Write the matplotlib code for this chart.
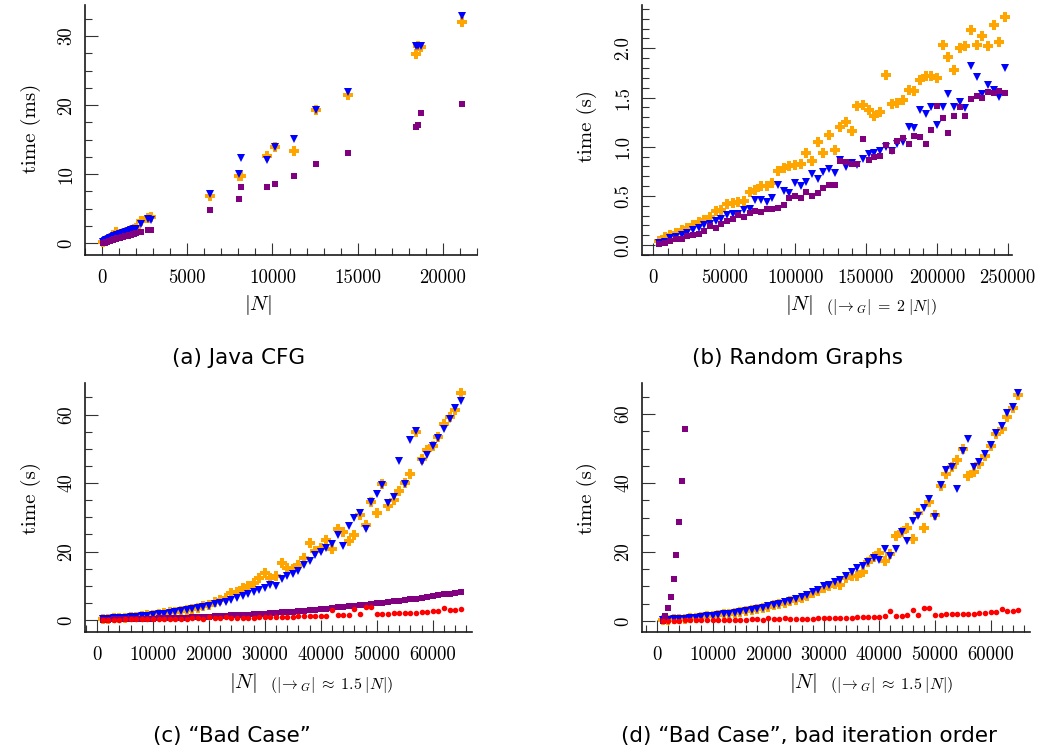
import matplotlib
matplotlib.use('Agg')
import matplotlib.pyplot as plt
from matplotlib.ticker import MultipleLocator, FuncFormatter

plt.rcParams['mathtext.fontset'] = 'cm'
plt.rcParams['axes.unicode_minus'] = False
plt.rcParams['font.family'] = ['cmr10', 'DejaVu Serif']

# ---------------- data ----------------
# (a) Java CFG
n_a = [60, 150, 230, 310, 400, 480, 560, 650, 730, 820, 900, 990, 1080, 1160, 1250,
       1340, 1430, 1520, 1610, 1700, 1790, 1880, 1970,
       2300, 2700, 2900,
       6330, 8040, 8160, 9690, 10160, 11290, 12570, 14430, 18450, 18550, 18700, 21100]
orange_a = [0.2, 0.3, 0.4, 0.5, 0.6, 0.7, 0.8, 1.0, 1.2, 1.7, 1.2, 1.3, 1.35, 1.4, 1.5,
            1.55, 1.6, 1.7, 1.8, 1.85, 1.9, 2.0, 2.2,
            3.2, 3.6, 3.8,
            6.9, 9.8, 9.7, 12.6, 13.9, 13.3, 19.3, 21.4, 27.4, 28.5, 28.4, 32.0]
blue_a = [0.2, 0.3, 0.4, 0.5, 0.6, 0.7, 0.8, 0.9, 1.0, 1.1, 1.15, 1.25, 1.3, 1.4, 1.45,
          1.55, 1.6, 1.7, 1.75, 1.85, 1.9, 2.0, 2.05,
          2.75, 3.5, 3.4,
          7.1, 10.0, 12.3, 12.1, 13.9, 15.1, 19.3, 21.9, 28.6, 28.6, 28.5, 32.9]
purple_a = [0.0, 0.1, 0.15, 0.2, 0.3, 0.35, 0.4, 0.5, 0.55, 0.6, 0.7, 0.75, 0.8, 0.85, 0.95,
            1.0, 1.05, 1.1, 1.2, 1.25, 1.3, 1.35, 1.45,
            1.7, 1.9, 1.95,
            4.8, 6.4, 8.1, 8.2, 8.6, 9.8, 11.5, 13.1, 16.8, 17.1, 18.9, 20.2]

# (b) Random graphs
n_b = [4000, 8000, 12000, 16000, 20000, 24000, 28000, 32000, 36000, 40000,
       44000, 48000, 52000, 56000, 60000, 64000, 68000, 72000, 76000, 80000,
       84000, 88000, 92000, 96000, 100000, 104000, 108000, 112000, 116000, 120000,
       124000, 128000, 132000, 136000, 140000, 144000, 148000, 152000, 156000, 160000,
       164000, 168000, 172000, 176000, 180000, 184000, 188000, 192000, 196000, 200000,
       204000, 208000, 212000, 216000, 220000, 224000, 228000, 232000, 236000, 240000,
       244000, 248000]
orange_b = [0.04, 0.078, 0.10, 0.125, 0.15, 0.176, 0.20, 0.24, 0.26, 0.29,
            0.35, 0.36, 0.42, 0.43, 0.44, 0.45, 0.54, 0.56, 0.60, 0.60,
            0.63, 0.75, 0.78, 0.80, 0.81, 0.82, 0.94, 0.86, 1.05, 0.94,
            1.12, 0.97, 1.20, 1.25, 1.16, 1.41, 1.42, 1.37, 1.31, 1.35,
            1.73, 1.43, 1.44, 1.47, 1.58, 1.57, 1.68, 1.72, 1.72, 1.70,
            2.03, 1.91, 1.78, 2.00, 2.02, 2.19, 2.03, 2.13, 2.02, 2.24,
            2.06, 2.32]
blue_b = [0.017, 0.034, 0.068, 0.085, 0.10, 0.125, 0.15, 0.17, 0.20, 0.21,
          0.25, 0.27, 0.305, 0.315, 0.32, 0.36, 0.37, 0.46, 0.46, 0.44,
          0.48, 0.61, 0.55, 0.53, 0.63, 0.60, 0.64, 0.72, 0.67, 0.74,
          0.77, 0.73, 0.87, 0.79, 0.83, 0.81, 0.88, 0.93, 0.94, 0.96,
          1.00, 0.96, 1.03, 1.05, 1.20, 1.19, 1.37, 1.33, 1.40, 1.22,
          1.40, 1.54, 1.40, 1.45, 1.39, 1.82, 1.71, 1.54, 1.63, 1.58,
          1.51, 1.80]
purple_b = [0.01, 0.024, 0.044, 0.061, 0.061, 0.092, 0.10, 0.11, 0.14, 0.19,
            0.17, 0.21, 0.25, 0.27, 0.31, 0.29, 0.33, 0.35, 0.34, 0.37,
            0.37, 0.38, 0.41, 0.48, 0.50, 0.48, 0.54, 0.50, 0.53, 0.58,
            0.61, 0.61, 0.86, 0.84, 0.82, 0.82, 1.08, 0.87, 0.90, 0.91,
            1.02, 0.96, 1.06, 1.09, 1.03, 1.11, 1.10, 1.03, 1.17, 1.41,
            1.29, 1.14, 1.31, 1.40, 1.31, 1.48, 1.52, 1.50, 1.56, 1.55,
            1.57, 1.55]

# (c) / (d) "Bad Case"
n_cd = [1000, 2000, 3000, 4000, 5000, 6000, 7000, 8000, 9000, 10000,
        11000, 12000, 13000, 14000, 15000, 16000, 17000, 18000, 19000, 20000,
        21000, 22000, 23000, 24000, 25000, 26000, 27000, 28000, 29000, 30000,
        31000, 32000, 33000, 34000, 35000, 36000, 37000, 38000, 39000, 40000,
        41000, 42000, 43000, 44000, 45000, 46000, 47000, 48000, 49000, 50000,
        51000, 52000, 53000, 54000, 55000, 56000, 57000, 58000, 59000, 60000,
        61000, 62000, 63000, 64000, 65000]
orange_c = [0.3, 0.4, 0.5, 0.6, 0.7, 0.85, 1.0, 1.2, 1.35, 1.55,
            1.75, 1.95, 2.2, 2.45, 2.7, 3.0, 3.3, 3.6, 4.0, 4.5,
            5.2, 5.8, 6.4, 7.8, 8.2, 9.4, 9.9, 10.8, 12.2, 13.8,
            12.4, 12.9, 16.5, 15.3, 14.9, 16.1, 18.0, 22.4, 20.1, 21.1,
            23.4, 20.7, 26.6, 25.8, 23.1, 24.8, 30.7, 27.7, 34.5, 31.1,
            39.6, 33.4, 35.0, 37.7, 39.9, 42.5, 54.8, 47.0, 49.6, 50.9,
            53.5, 57.1, 59.4, 61.3, 66.2]
blue_c = [0.3, 0.4, 0.5, 0.6, 0.7, 0.85, 1.0, 1.15, 1.3, 1.5,
          1.7, 1.9, 2.1, 2.35, 2.6, 2.9, 3.2, 3.5, 3.8, 4.2,
          4.6, 5.0, 5.4, 5.9, 6.4, 6.9, 7.5, 8.1, 8.7, 9.4,
          10.2, 10.0, 12.0, 12.8, 13.5, 14.4, 16.1, 17.2, 19.0, 20.0,
          21.1, 22.1, 24.8, 21.7, 27.4, 29.9, 31.1, 26.6, 34.4, 36.7,
          39.4, 34.1, 36.0, 46.4, 39.7, 52.6, 55.2, 46.2, 48.2, 50.8,
          53.2, 55.8, 58.6, 61.8, 64.0]
purple_c = [0.1, 0.12, 0.15, 0.18, 0.21, 0.24, 0.28, 0.32, 0.36, 0.4,
            0.45, 0.5, 0.55, 0.6, 0.66, 0.72, 0.79, 0.86, 0.93, 1.0,
            1.08, 1.16, 1.24, 1.33, 1.42, 1.51, 1.6, 1.7, 1.8, 1.9,
            2.0, 2.1, 2.22, 2.34, 2.46, 2.6, 2.74, 2.9, 3.05, 3.2,
            3.35, 3.5, 3.66, 3.82, 3.98, 4.15, 4.32, 4.5, 4.68, 4.86,
            5.05, 5.24, 5.43, 5.63, 5.84, 6.05, 6.27, 6.5, 6.73, 6.96,
            7.2, 7.45, 7.7, 7.95, 8.2]
red_cd = [0.1, 0.1, 0.1, 0.1, 0.15, 0.15, 0.2, 0.2, 0.25, 0.25,
          0.3, 0.3, 0.3, 0.35, 0.35, 0.4, 0.6, 0.5, 0.4, 0.85,
          0.5, 0.5, 0.9, 0.6, 0.6, 0.6, 0.7, 0.7, 0.75, 0.9,
          0.8, 0.8, 0.95, 0.95, 0.95, 1.15, 1.15, 1.2, 1.25, 1.27,
          1.3, 2.8, 1.55, 1.56, 1.6, 3.2, 1.75, 3.7, 3.7, 1.85,
          1.85, 1.9, 1.95, 1.95, 2.05, 2.05, 2.15, 2.25, 2.35, 2.5,
          2.55, 3.4, 3.0, 3.0, 3.1]
orange_d = [0.3, 0.4, 0.5, 0.6, 0.7, 0.85, 1.0, 1.15, 1.3, 1.5,
            1.7, 1.9, 2.1, 2.35, 2.6, 2.85, 3.15, 3.45, 3.8, 4.1,
            4.5, 4.9, 5.3, 5.8, 6.2, 6.8, 7.3, 8.0, 8.8,
            9.5, 10.0, 10.7, 10.4, 12.4, 13.1, 13.1, 14.1, 17.2, 18.5,
            19.8, 17.4, 19.5, 24.7, 25.9, 27.1, 23.8, 31.2, 26.9, 34.5,
            30.7, 39.1, 42.5, 44.7, 46.8, 50.0, 42.1, 43.1, 45.5, 47.9,
            50.7, 54.1, 55.8, 59.2, 61.8, 65.6]
blue_d = [0.3, 0.4, 0.5, 0.6, 0.7, 0.85, 1.0, 1.15, 1.3, 1.5,
          1.7, 1.9, 2.1, 2.35, 2.6, 2.9, 3.2, 3.5, 3.85, 4.2,
          4.6, 5.0, 5.4, 5.9, 6.4, 6.9, 7.6, 8.3, 9.1,
          10.0, 10.4, 11.2, 11.9, 13.1, 14.1, 15.3, 16.0, 17.2, 18.2,
          17.7, 20.8, 18.9, 20.8, 25.9, 23.2, 29.1, 30.4, 32.7, 35.3,
          30.2, 39.4, 43.8, 44.5, 38.3, 49.4, 52.8, 44.6, 46.0, 48.4,
          51.0, 54.4, 56.5, 60.2, 62.1, 66.0]
n_purple_d = [1000, 1500, 2000, 2500, 3000, 3500, 4000, 4500, 5000]
purple_d = [0.1, 1.5, 3.9, 7.0, 12.2, 19.1, 28.7, 40.6, 55.6]

# ---------------- styling ----------------
ORANGE, BLUE, PURPLE, RED = '#FFA500', '#0000FF', '#800080', '#FF0000'
W, H = 1048, 753
fig = plt.figure(figsize=(W / 100, H / 100), dpi=100)


def add_ax(l, r, t, b):
    return fig.add_axes([l / W, 1 - b / H, (r - l) / W, (b - t) / H])


def style(ax, xlim, ylim, xmaj, xmin, ymaj, ymin, yfmt):
    ax.set_xlim(*xlim)
    ax.set_ylim(*ylim)
    for s in ['top', 'right']:
        ax.spines[s].set_visible(False)
    for s in ['left', 'bottom']:
        ax.spines[s].set_linewidth(1.2)
        ax.spines[s].set_color('#1a1a1a')
    ax.xaxis.set_major_locator(MultipleLocator(xmaj))
    ax.xaxis.set_minor_locator(MultipleLocator(xmin))
    ax.yaxis.set_major_locator(MultipleLocator(ymaj))
    ax.yaxis.set_minor_locator(MultipleLocator(ymin))
    ax.xaxis.set_major_formatter(FuncFormatter(lambda v, p: f'{v:.0f}'))
    ax.yaxis.set_major_formatter(FuncFormatter(lambda v, p: yfmt.format(v)))
    ax.tick_params(which='both', direction='in', color='#333333', width=0.8,
                   top=False, right=False)
    ax.tick_params(which='major', length=9)
    ax.tick_params(which='minor', length=5)
    ax.tick_params(axis='x', pad=10, labelsize=13.5)
    ax.tick_params(axis='y', pad=7, labelsize=13.5, labelrotation=90)
    for lab in ax.get_yticklabels():
        lab.set_va('center')


def pts(ax, x, y, color, marker, ms):
    ax.plot(x, y, linestyle='none', marker=marker, color=color,
            markersize=ms, markeredgewidth=0, clip_on=False)


axA = add_ax(85, 477, 5, 255)
axB = add_ax(642, 1012, 5, 255)
axC = add_ax(85, 472, 383, 632)
axD = add_ax(642, 1030, 383, 632)

style(axA, (-1000, 22000), (-1.7, 34.5), 5000, 1000, 10, 2.5, '{:.0f}')
style(axB, (-8000, 253000), (-0.1, 2.44), 50000, 10000, 0.5, 0.1, '{:.1f}')
style(axC, (-2140, 67000), (-3.5, 69.2), 10000, 2000, 20, 5, '{:.0f}')
style(axD, (-2700, 67100), (-3.2, 69.0), 10000, 2000, 20, 5, '{:.0f}')

OMS, BMS, PMS, RMS = 7.2, 6.4, 4.5, 4.0

pts(axA, n_a, orange_a, ORANGE, 'P', OMS)
pts(axA, n_a, blue_a, BLUE, 'v', BMS)
pts(axA, n_a, purple_a, PURPLE, 's', PMS)

pts(axB, n_b, orange_b, ORANGE, 'P', OMS)
pts(axB, n_b, blue_b, BLUE, 'v', BMS)
pts(axB, n_b, purple_b, PURPLE, 's', PMS)

pts(axC, n_cd, orange_c, ORANGE, 'P', OMS)
pts(axC, n_cd, blue_c, BLUE, 'v', BMS)
pts(axC, n_cd, purple_c, PURPLE, 's', PMS)
pts(axC, n_cd, red_cd, RED, 'o', RMS)

pts(axD, n_cd, orange_d, ORANGE, 'P', OMS)
pts(axD, n_cd, blue_d, BLUE, 'v', BMS)
pts(axD, n_purple_d, purple_d, PURPLE, 's', PMS)
pts(axD, n_cd, red_cd, RED, 'o', RMS)

# ---------------- labels ----------------
def ftext(x, y, s, **kw):
    fig.text(x / W, 1 - y / H, s, **kw)


LBL = 15
SUB = 11.5
ftext(31, 128, 'time (ms)', rotation=90, ha='center', va='center', fontsize=LBL)
ftext(587, 126, 'time (s)', rotation=90, ha='center', va='center', fontsize=LBL)
ftext(31, 498, 'time (s)', rotation=90, ha='center', va='center', fontsize=LBL)
ftext(587, 498, 'time (s)', rotation=90, ha='center', va='center', fontsize=LBL)

ftext(258, 305, r'$|N|$', ha='center', va='center', fontsize=LBL)
ftext(799, 305, r'$|N|$', ha='center', va='center', fontsize=LBL)
ftext(826, 307, r'$(|\!\rightarrow_G|\;=\;2\;|N|)$', ha='left', va='center', fontsize=SUB)
ftext(243, 683, r'$|N|$', ha='center', va='center', fontsize=LBL)
ftext(270, 685, r'$(|\!\rightarrow_G|\;\approx\;1.5\;|N|)$', ha='left', va='center', fontsize=SUB)
ftext(803, 683, r'$|N|$', ha='center', va='center', fontsize=LBL)
ftext(830, 685, r'$(|\!\rightarrow_G|\;\approx\;1.5\;|N|)$', ha='left', va='center', fontsize=SUB)

CAP = dict(ha='center', va='center', fontsize=15.5, family=['DejaVu Sans'])
ftext(238, 358, '(a) Java CFG', **CAP)
ftext(798, 358, '(b) Random Graphs', **CAP)
ftext(232, 736, '(c) \u201cBad Case\u201d', **CAP)
ftext(809, 736, '(d) \u201cBad Case\u201d, bad iteration order', **CAP)

fig.savefig('out.png', dpi=100)
